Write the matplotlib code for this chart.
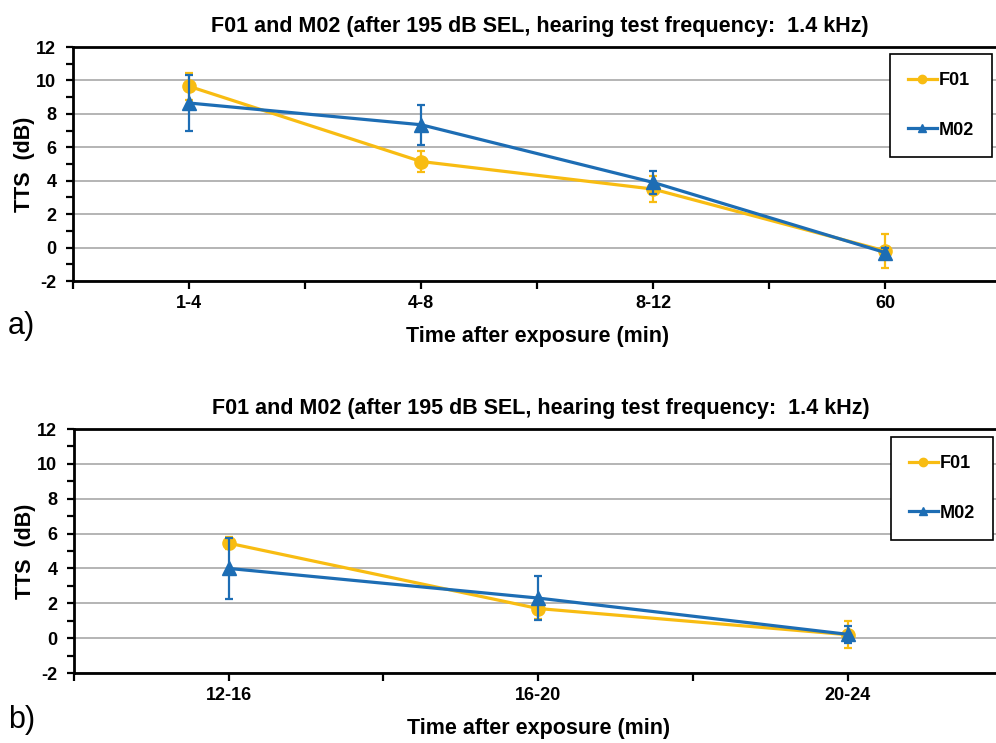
import matplotlib
matplotlib.use("Agg")
import matplotlib.pyplot as plt
from matplotlib.lines import Line2D
from matplotlib.ticker import MultipleLocator, FixedLocator, NullFormatter

plt.rcParams['font.family'] = ['Liberation Sans', 'DejaVu Sans']

# ---- data ----
cats_a = ["1-4", "4-8", "8-12", "60"]
f01_a = [9.65, 5.15, 3.5, -0.2]
f01_a_err = [0.8, 0.6, 0.8, 1.0]
m02_a = [8.65, 7.35, 3.9, -0.3]
m02_a_err = [1.7, 1.2, 0.7, 0.3]

cats_b = ["12-16", "16-20", "20-24"]
f01_b = [5.45, 1.7, 0.2]
f01_b_err = [0.35, 0.6, 0.78]
m02_b = [4.0, 2.3, 0.22]
m02_b_err = [1.75, 1.25, 0.5]

title = "F01 and M02 (after 195 dB SEL, hearing test frequency:  1.4 kHz)"
xlabel = "Time after exposure (min)"
ylabel = "TTS  (dB)"
yticks = [-2, 0, 2, 4, 6, 8, 10, 12]

YEL = "#F8BC12"
BLU = "#1D6DB4"

fig = plt.figure(figsize=(9.96, 7.43), dpi=100)

def panel(rect, cats, f, fe, m, me, letter, letter_y, leg_top):
    ax = fig.add_axes(rect)
    x = list(range(len(cats)))
    ax.errorbar(x, f, yerr=fe, color=YEL, lw=2.3, marker='o', ms=9.5,
                elinewidth=1.6, capsize=3, capthick=1.6, zorder=3)
    ax.errorbar(x, m, yerr=me, color=BLU, lw=2.3, marker='^', ms=9.5,
                elinewidth=1.6, capsize=3, capthick=1.6, zorder=4)
    ax.set_xlim(-0.5, len(cats) - 0.5)
    ax.set_ylim(-2, 12)
    ax.set_yticks(yticks)
    ax.set_yticklabels([str(v) for v in yticks], fontweight='bold', fontsize=13)
    ax.yaxis.set_minor_locator(MultipleLocator(1))
    ax.set_xticks(x)
    ax.set_xticklabels(cats, fontweight='bold', fontsize=13)
    ax.xaxis.set_minor_locator(FixedLocator([i + 0.5 for i in range(-1, len(cats))]))
    ax.xaxis.set_minor_formatter(NullFormatter())
    ax.tick_params(axis='both', which='both', direction='out', width=1.6, color='black')
    ax.tick_params(axis='y', which='both', length=5, pad=7)
    ax.tick_params(axis='x', which='both', length=6, pad=4)
    ax.grid(axis='y', which='major', color='#A8A8A8', lw=1.2, zorder=0)
    ax.set_axisbelow(True)
    for s in ['left', 'bottom', 'top']:
        ax.spines[s].set_linewidth(2)
        ax.spines[s].set_color('black')
    ax.spines['right'].set_visible(False)
    ax.set_title(title, fontweight='bold', fontsize=15.5, pad=11, x=0.503)
    ax.set_xlabel(xlabel, fontweight='bold', fontsize=15.5, labelpad=10)
    ax.set_ylabel(ylabel, fontweight='bold', fontsize=15.5, labelpad=1)
    handles = [Line2D([], [], color=YEL, lw=2.3, marker='o', ms=6),
               Line2D([], [], color=BLU, lw=2.3, marker='^', ms=6)]
    leg = ax.legend(handles, ["F01", "M02"], loc='upper right',
                    bbox_to_anchor=(0.99, leg_top), frameon=True, fancybox=False,
                    edgecolor='black', framealpha=1, handlelength=1.6,
                    handletextpad=0.1, labelspacing=1.8, borderpad=1.0,
                    borderaxespad=0,
                    prop={'weight': 'bold', 'size': 13})
    leg.get_frame().set_linewidth(1.2)
    fig.text(0.008, letter_y, letter, fontsize=22, ha='left', va='center')
    return ax

panel([0.0733, 0.6218, 0.932, 0.3149], cats_a, f01_a, f01_a_err, m02_a, m02_a_err,
      "a)", 1 - 326 / 743, 0.97)
panel([0.0743, 0.0942, 0.932, 0.3284], cats_b, f01_b, f01_b_err, m02_b, m02_b_err,
      "b)", 1 - 720 / 743, 0.967)

fig.savefig("out.png", dpi=100)
